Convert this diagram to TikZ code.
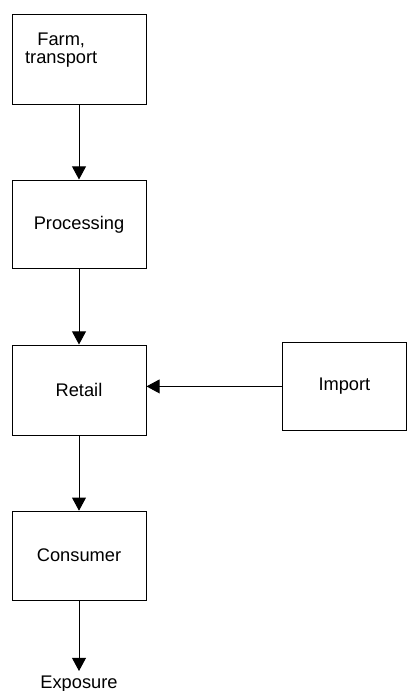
\documentclass[tikz,border=0pt]{standalone}
\usepackage{fontspec}
\setmainfont{Liberation Sans}
\usetikzlibrary{arrows.meta}

\begin{document}
\begin{tikzpicture}
          \tikzstyle{stage}=[draw, line width=0.7pt, minimum width=3.35cm, minimum height=2.22cm, inner sep=0pt]
          \tikzstyle{flow}=[-{Triangle[length=0.33cm, width=0.35cm]}, line width=0.7pt]

          \useasboundingbox (0, 0) rectangle (10.2, -17.275);

          \node (farm) at (1.975, -1.475) [stage, minimum height=2.25cm] {};
          \node (farmtext) at (1.53, -1.26) [align=center, font=\fontsize{13}{12.5}\selectfont] {Farm,\\transport};
          \node (proc) at (1.975, -5.61) [stage, font=\fontsize{13}{15}\selectfont] {Processing};
          \node (retail) at (1.975, -9.75) [stage, minimum height=2.25cm, font=\fontsize{13}{15}\selectfont] {Retail};
          \node (import) at (8.61, -9.66) [stage, minimum width=3.12cm, font=\fontsize{13}{15}\selectfont] {Import};
          \node (cons) at (1.975, -13.89) [stage, font=\fontsize{13}{15}\selectfont] {Consumer};
          \node (expo) at (1.975, -16.775) [anchor=north, inner sep=0.125cm, font=\fontsize{13}{15}\selectfont] {Exposure};

          \draw[flow] (farm) -- (proc);
          \draw[flow] (proc) -- (retail);
          \draw[flow] (retail) -- (cons);
          \draw[flow] (cons) -- (expo);
          \draw[flow] (import.west) -- (import.west -| retail.east);
        \end{tikzpicture}
\end{document}
